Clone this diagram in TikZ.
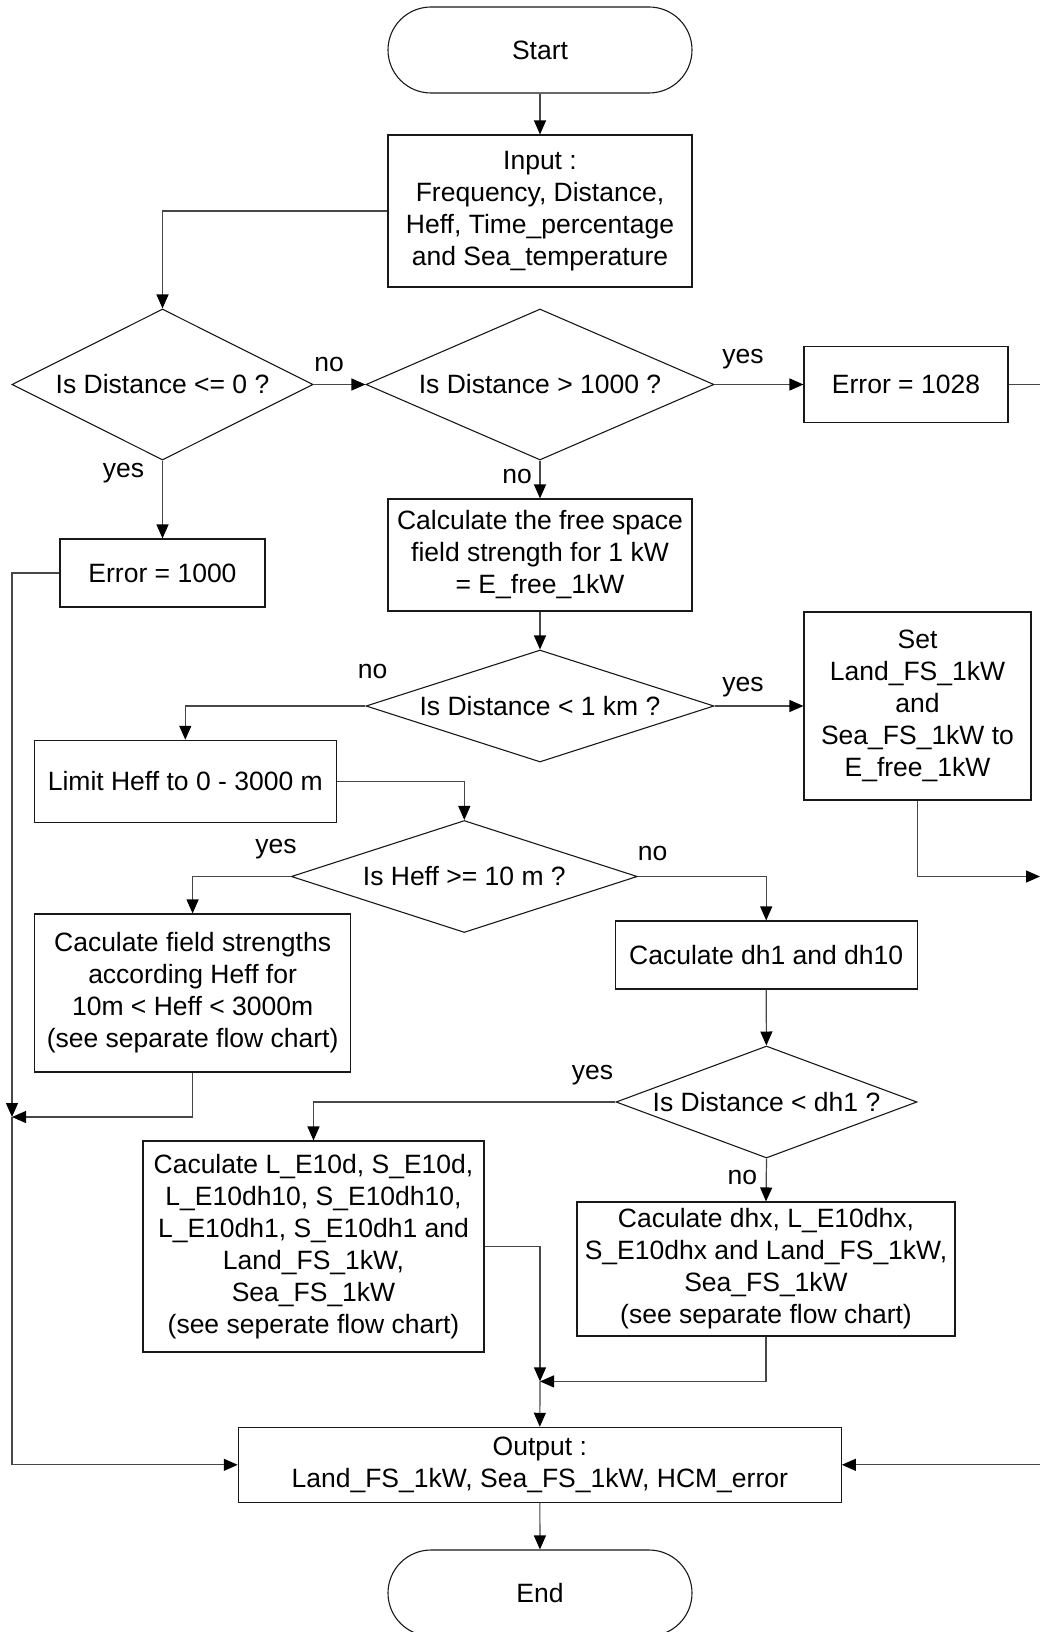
\documentclass[tikz,border=0pt]{standalone}
\usepackage{fontspec}
\setmainfont{Liberation Sans}
\usetikzlibrary{arrows.meta,shapes.geometric}
\newcommand{\fcfont}{\fontsize{26.5pt}{32pt}\selectfont}
\begin{document}
\begin{tikzpicture}[x=1pt,y=-1pt, font=\fcfont,
  sz/.style 2 args={minimum width=#1pt, minimum height=#2pt},
  box/.style={draw=black!90, line width=1.1pt, align=center, inner sep=0pt},
  term/.style={box, rounded corners=43pt, minimum width=304pt, minimum height=86pt},
  dia/.style={draw=black!90, line width=1.1pt, diamond, inner sep=0pt},
  conn/.style={draw=black!72, line width=1.2pt},
  arr/.style={conn, -{Triangle[length=14pt,width=12pt,color=black]}},
  lbl/.style={inner sep=0pt}]
\fill[white] (0,0) rectangle (1040,1632);
\useasboundingbox (0,0) rectangle (1040,1632);

% nodes
\node[term] (start) at (540,50) {Start};
\node[box, sz={304}{152}] (input) at (540,211) {Input :\\Frequency, Distance,\\Heff, Time\_percentage\\and Sea\_temperature};
\node[dia, sz={301}{151}, label={center:Is Distance <= 0 ?}] (d1) at (162.5,384.5) {};
\node[dia, sz={348}{151}, label={center:Is Distance > 1000 ?}] (d2) at (540,384.5) {};
\node[box, sz={204}{76}] (e1028) at (906,384.5) {Error = 1028};
\node[box, sz={205}{68}] (e1000) at (162.5,573) {Error = 1000};
\node[box, sz={304}{112}] (free) at (540,555) {Calculate the free space\\field strength for 1 kW\\= E\_free\_1kW};
\node[dia, sz={348}{112}, label={center:Is Distance < 1 km ?}] (d3) at (540,706) {};
\node[box, sz={227}{188}] (set) at (917.5,706) {Set\\Land\_FS\_1kW\\and\\Sea\_FS\_1kW to\\E\_free\_1kW};
\node[box, sz={302}{82}] (limit) at (185.3,781.3) {Limit Heff to 0 - 3000 m};
\node[dia, sz={346}{112}, label={center:Is Heff >= 10 m ?}] (d4) at (464.3,876.5) {};
\node[box, sz={316}{158}] (field) at (192.6,993) {Caculate field strengths\\according Heff for\\10m < Heff < 3000m\\(see separate flow chart)};
\node[box, sz={302}{68}] (dh) at (766.2,955) {Caculate dh1 and dh10};
\node[dia, sz={301}{112}, label={center:Is Distance < dh1 ?}] (d5) at (766.5,1102) {};
\node[box, sz={341}{211}] (le) at (313.5,1246.5) {Caculate L\_E10d, S\_E10d,\\L\_E10dh10, S\_E10dh10,\\L\_E10dh1, S\_E10dh1 and\\Land\_FS\_1kW,\\Sea\_FS\_1kW\\(see seperate flow chart)};
\node[box, sz={378}{134}] (dhx) at (766,1269) {Caculate dhx, L\_E10dhx,\\S\_E10dhx and Land\_FS\_1kW,\\Sea\_FS\_1kW\\(see separate flow chart)};
\node[box, sz={603}{75}] (out) at (539.8,1464.8) {Output :\\Land\_FS\_1kW, Sea\_FS\_1kW, HCM\_error};
\node[term] (end) at (540,1593) {End};

% free ends and junctions
\coordinate (j1) at (12,1117);
\coordinate (j2) at (540,1381.4);
\coordinate (r1) at (1042,384.5);
\coordinate (r2) at (1040,876.5);
\coordinate (r3) at (1042,1464.8);

% connectors
\draw[arr] (start) -- (input);
\draw[arr] (input.west) -| (d1.north);
\draw[arr] (d1.east) -- (d2.west);
\draw[arr] (d2.east) -- (e1028.west);
\draw[conn] (e1028.east) -- (r1);
\draw[arr] (d1.south) -- (e1000.north);
\draw[arr] (d2.south) -- (free.north);
\draw[arr] (e1000.west) -| (j1);
\draw[arr] (j1) |- (out.west);
\draw[arr] (field.south) |- (j1);
\draw[arr] (free) -- (d3);
\draw[arr] (d3.west) -| (limit.north);
\draw[arr] (d3.east) -- (set.west);
\draw[arr] (set.south) |- (r2);
\draw[arr] (limit.east) -| (d4.north);
\draw[arr] (d4.west) -| (field.north);
\draw[arr] (d4.east) -| (dh.north);
\draw[arr] (dh) -- (d5);
\draw[arr] (d5.west) -| (le.north);
\draw[arr] (d5.south) -- (dhx.north);
\draw[arr] (le.east) -| (j2);
\draw[arr] (j2) -- (out.north);
\draw[arr] (dhx.south) |- (j2);
\draw[arr] (out) -- (end);
\draw[arr] (r3) -- (out.east);

% branch labels
\node[lbl] (l1) at (329,364) {no};
\node[lbl] (l2) at (743,359) {yes};
\node[lbl] (l3) at (123.5,473) {yes};
\node[lbl] (l4) at (517,476) {no};
\node[lbl] (l5) at (372.7,671.5) {no};
\node[lbl] (l6) at (743,687) {yes};
\node[lbl] (l7) at (275.9,849.5) {yes};
\node[lbl] (l8) at (652.7,853.6) {no};
\node[lbl] (l9) at (592.4,1075.4) {yes};
\node[lbl] (l10) at (742.3,1177.4) {no};
\end{tikzpicture}
\end{document}
